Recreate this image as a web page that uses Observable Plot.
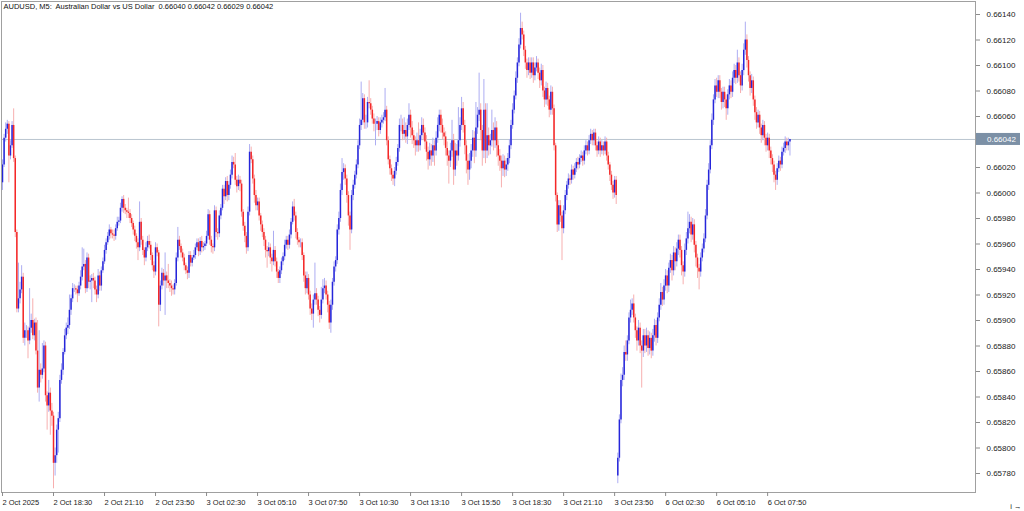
<!DOCTYPE html>
<html>
<head>
<meta charset="utf-8">
<script src="https://cdn.jsdelivr.net/npm/d3@7"></script>
<script src="https://cdn.jsdelivr.net/npm/@observablehq/plot@0.6"></script>
<style>
  html, body { margin: 0; padding: 0; background: #ffffff; }
  #chart svg text { white-space: pre; }
</style>
</head>
<body>
<div id="chart"></div>
<script>
// ---- DATA (prices in points: 66042 = 0.66042) ----
const symbol = "AUDUSD";
const timeframe = "M5";
const description = "Australian Dollar vs US Dollar";

// opens of each trading session (first bar, and first bar after the weekend)
const sessionStarts = [0, 386];
const sessionOpens = [66008, 65778];

// close of every M5 bar, 2 Oct 15:50 ... 6 Oct 09:00
const closes = [
  // 2 Oct 15:50 –
  66022,66043,66050,66054,66029,66037,66053,66027,65969,65909,
  65917,65924,65934,65886,65892,65892,65884,65894,65900,65888,
  65898,65876,65847,65861,65857,65862,65880,65841,65833,65843,
  65829,65825,65788,65794,65814,65823,65853,65861,65875,65888,
  65894,65896,65908,65917,65925,65925,65924,65921,65927,65934,
  65942,65944,65925,65949,65930,65931,65933,65931,65924,65920,
  65935,65927,
  65939,65946,65955,65961,65966,65971,65968,65967,
  65966,65972,65977,65978,65988,65995,65988,65986,65985,65984,
  65980,65976,65971,65966,65961,65957,65977,65963,65955,65949,
  65957,65962,65959,65951,65943,65938,65957,65953,65912,65927,
  65937,65931,65935,65931,65929,65927,65925,65924,65929,65949,
  65963,65958,65953,65949,65943,65939,65937,65951,65945,65949,
  65951,65957,65961,
  65954,65962,65957,65958,65960,65966,65983,
  65963,65958,65957,65986,65969,65968,65982,65988,66003,65997,
  66009,65998,66006,66014,66024,66022,66010,66005,66010,66007,
  65985,65974,65966,65957,65985,66032,66026,66011,65998,65990,
  65993,65982,65975,65969,65963,65955,65954,65957,65949,65946,
  65955,65946,65938,65933,65939,65946,65950,65959,65963,65959,
  65967,65977,65989,65982,65969,65963,65961,
  65961,65951,65935,
  65925,65933,65920,65909,65905,65916,65921,65916,65908,65904,
  65916,65925,65927,65920,65912,65898,65912,65930,65942,65947,
  65971,65980,66002,66016,66019,66011,65998,65982,65971,65998,
  66006,66014,66022,66037,66053,66057,66074,66055,66055,66071,
  66070,66065,66058,66054,66054,66056,66049,66055,66057,66059,
  66065,66041,66026,66019,66014,66011,66017,66024,66035,66053,
  66053,66046,66049,66044,66053,66061,66051,66045,66041,66037,
  66041,66037,66045,66053,66047,66040,66032,66026,66033,66029,
  66037,66033,66043,66053,66061,66053,66047,66044,66035,66029,
  66025,66033,66041,66018,66033,66029,66041,66053,66066,66053,
  66037,66025,66018,66025,66033,66043,66033,66051,66061,66065,
  66049,66033,66065,66033,66045,66037,66041,66049,66041,66051,
  66037,66029,
  66025,66019,66025,66018,66022,66027,66037,66053,
  66065,66076,66090,66102,66116,66129,66124,66112,66102,66096,
  66102,66094,66102,66092,66098,66102,66094,66088,66096,66080,
  66073,66082,66073,66065,66079,66066,66037,65998,65975,65990,
  65982,65972,65986,65998,66006,66011,66010,66018,66014,66019,
  66024,66022,66027,66029,66025,66033,66037,66033,66041,66046,
  66041,66047,66037,66033,66040,66033,66037,66033,66040,66029,
  66022,66014,66006,66000,66010,65998,
  // 6 Oct 00:00 –
  65792,65822,65853,65857,
  65875,65873,65884,65902,65908,65913,65902,65892,65884,65894,
  65880,65876,65888,65880,65888,65878,65886,65876,65888,65896,
  65886,65902,65912,65922,65916,65927,65935,65927,65941,65947,
  65939,65953,65946,65956,65963,65955,65943,65938,65955,65964,
  65972,65977,65967,65975,65959,65949,65941,65938,
  65949,65956,
  65964,65982,66006,66018,66037,66057,66073,66084,66079,66088,
  66079,66071,66079,66073,66066,66077,66084,66079,66090,66096,
  66090,66102,66092,66084,66096,66112,66120,66104,66092,66082,
  66088,66073,66063,66055,66061,66051,66045,66053,66043,66037,
  66043,66033,66027,66022,66014,66010,66019,66025,66022,66032,
  66035,66040,66037,66040,66042
];

// upper wick length above the body, points
const wickUp = [
  4,3,5,3,2,4,3,13,2,2, 28,6,9,3,6,4,3,31,5,17, 3,4,24,31,5,20,4,3,3,10,
  4,6,3,6,4,5,4,5,3,5, 4,6,12,3,4,3,2,3,3,5, 15,12,3,4,3,4,3,4,3,3, 5,3,
  3,3,4,3,3,4,2,3, 4,3,4,3,4,2,3,3,2,11, 3,3,2,3,2,3,16,3,3,2,
  4,4,5,3,2,3,4,3,2,4, 4,3,18,3,13,3,4,3,3,4, 10,3,2,3,3,2,3,3,3,2, 4,3,3,
  3,3,4,3,2,4,4, 3,3,2,4,3,3,4,3,3,3, 3,4,3,4,5,4,9,3,4,3,
  3,2,3,3,4,6,4,3,3,4, 3,3,2,3,3,3,3,4,3,3, 15,3,3,2,3,3,3,4,3,3, 4,3,4,6,3,3,2,
  3,3,2, 3,5,3,3,4,4,24,4,3,3, 10,7,6,4,3,3,4,3,4,3,
  4,5,5,11,4,3,3,3,3,4, 4,3,4,4,5,30,4,3,6,4, 17,4,3,4,4,4,3,4,4,4, 17,3,3,3,3,3,3,4,3,5,
  8,5,10,6,5,9,4,5,4,3, 6,14,5,6,5,4,5,4,6,5, 6,4,5,6,4,4,5,4,4,5,
  4,6,16,5,6,5,26,6,9,5, 4,4,5,6,5,6,5,20,6,29, 5,4,24,5,25,6,5,16,6,8, 5,4,
  5,4,5,4,5,4,5,4, 5,4,5,4,5,12,5,3,3,3, 4,4,4,4,4,5,3,4,5,4,
  3,5,4,3,5,4,3,2,2,4, 4,3,4,4,3,4,3,4,3,4, 3,4,3,4,3,4,4,3,4,4,
  3,3,3,3,4,3,4,3,4,3, 3,2,3,3,3,3,
  4,4,5,6, 5,9,4,4,8,4,7,3,3,6, 4,4,5,5,6,4,5,4,5,5,
  4,4,5,7,4,5,5,4,4,5, 4,5,4,5,4,4,3,3,5,5, 13,6,4,5,4,3,3,3,
  4,4, 4,5,4,5,4,5,4,5,6,4, 4,3,4,4,4,4,5,4,5,5, 4,10,4,3,5,5,14,4,3,3,
  5,3,3,4,4,3,3,4,3,3, 4,3,3,3,3,3,4,4,3,4, 4,4,3,3,0
];

// lower wick length below the body, points
const wickDown = [
  6,2,3,4,21,3,2,3,4,3, 3,4,3,4,6,6,14,3,4,3, 4,3,4,11,6,3,3,5,19,5,
  19,8,20,10,6,18,3,3,4,2, 3,5,3,4,3,3,4,7,2,3, 3,3,4,3,5,6,17,6,4,6, 3,4,
  4,2,2,3,2,3,4,3, 4,3,2,3,2,3,4,3,5,4, 4,3,4,4,5,10,3,4,4,6,
  3,3,3,4,4,5,3,3,17,5, 3,4,27,6,4,5,6,4,4,2, 3,3,4,3,4,3,5,4,3,3, 2,3,2,
  4,3,4,3,3,2,3, 4,5,5,3,4,5,3,3,2,6, 3,5,4,3,3,3,4,5,3,6,
  4,4,5,5,3,3,3,4,6,4, 4,4,5,4,5,6,13,4,5,8, 3,4,5,4,4,3,3,3,3,4, 3,3,2,4,5,4,4,
  4,4,5, 5,4,4,5,5,11,4,4,5,6, 3,3,4,4,6,5,8,4,3,4,
  3,4,3,4,6,5,6,8,16,3, 4,3,3,3,3,4,4,5,5,4, 4,4,4,6,17,5,5,3,4,3, 3,4,4,5,5,5,6,3,3,3,
  5,5,4,5,6,4,8,7,6,8, 5,5,4,4,6,6,7,8,5,8, 5,12,4,4,5,6,5,7,6,8,
  18,5,5,12,5,8,4,5,4,6, 7,10,12,8,6,5,10,5,5,5, 8,12,6,10,6,8,7,5,8,6, 9,8,
  8,15,6,6,5,5,4,3, 3,3,3,4,3,3,4,5,5,6, 4,5,4,6,4,3,5,6,4,5,
  6,4,5,6,4,5,4,5,6,5, 5,25,4,3,4,3,4,3,4,3, 3,4,3,3,4,3,3,4,3,3,
  4,4,4,5,3,5,3,4,3,4, 4,5,4,5,4,7,
  6,3,3,5, 4,5,5,3,4,4,4,6,8,4, 6,29,5,6,5,6,5,6,4,5,
  6,4,3,4,5,4,4,6,5,4, 8,4,7,4,5,6,8,10,4,4, 4,4,6,4,6,7,8,14,
  4,3, 3,3,3,4,3,3,4,3,4,5, 5,6,5,6,9,5,4,5,4,4, 5,4,5,6,4,4,4,6,5,6,
  4,5,6,5,4,5,6,4,6,5, 4,6,5,6,6,8,4,3,5,3, 3,4,4,4,11
];

// time-axis labels (one every 32 bars) and price-axis levels
const xTickLabels = [
  "2 Oct 2025","2 Oct 18:30","2 Oct 21:10","2 Oct 23:50","3 Oct 02:30","3 Oct 05:10",
  "3 Oct 07:50","3 Oct 10:30","3 Oct 13:10","3 Oct 15:50","3 Oct 18:30","3 Oct 21:10",
  "3 Oct 23:50","6 Oct 02:30","6 Oct 05:10","6 Oct 07:50"
];
const barsPerLabel = 32;
const yTicks = [0.6578,0.6580,0.6582,0.6584,0.6586,0.6588,0.6590,0.6592,0.6594,0.6596,
  0.6598,0.6600,0.6602,0.6604,0.6606,0.6608,0.6610,0.6612,0.6614];

// ---- BUILD ----
if (closes.length !== wickUp.length || closes.length !== wickDown.length) {
  throw new Error("length mismatch " + closes.length + " " + wickUp.length + " " + wickDown.length);
}
const P = v => v / 1e5;
const bars = closes.map((c, i) => {
  const s = sessionStarts.indexOf(i);
  const o = s >= 0 ? sessionOpens[s] : closes[i - 1];
  return {
    i,
    open: P(o), close: P(c),
    high: P(Math.max(o, c) + wickUp[i]),
    low: P(Math.min(o, c) - wickDown[i]),
    up: c >= o
  };
});
const last = bars[bars.length - 1];
const fmt = v => v.toFixed(5);
const title = `${symbol}, ${timeframe}:  ${description}  ${fmt(last.open)} ${fmt(last.high)} ${fmt(last.low)} ${fmt(last.close)}`;
const xTickBars = xTickLabels.map((_, k) => k * barsPerLabel);
const labelOf = new Map(xTickBars.map((b, k) => [b, xTickLabels[k]]));
// the price-axis level hidden behind the current-price marker keeps its tick but not its label
const hidden = t => Math.abs(t - last.close) < 0.00007;

const BLUE = "#2626da", RED = "#f42828";
const BLUE_W = "#adadf2", RED_W = "#f7afaf";
const font = "Liberation Sans, Arial, sans-serif";

const chart = Plot.plot({
  width: 1024,
  height: 511,
  marginLeft: 1,
  marginRight: 49,
  marginTop: 1,
  marginBottom: 19,
  style: { fontFamily: font, fontSize: "8px", background: "#ffffff", color: "#000000", overflow: "visible" },
  x: { domain: [-0.63, 610.4], axis: null },
  y: { domain: [0.657651, 0.661502], axis: null },
  marks: [
    Plot.ruleY([last.close], { stroke: "#b9c5cf", strokeWidth: 1 }),
    Plot.ruleX(bars.filter(d => d.up), { x: "i", y1: "low", y2: "high", stroke: BLUE_W, strokeWidth: 1 }),
    Plot.ruleX(bars.filter(d => !d.up), { x: "i", y1: "low", y2: "high", stroke: RED_W, strokeWidth: 1 }),
    Plot.ruleX(bars.filter(d => d.up), { x: "i", y1: "open", y2: "close", stroke: BLUE, strokeWidth: 1.5 }),
    Plot.ruleX(bars.filter(d => !d.up), { x: "i", y1: "open", y2: "close", stroke: RED, strokeWidth: 1.5 }),
    Plot.frame({ stroke: "#a0a0a0" }),
    Plot.axisY(yTicks, {
      anchor: "right", tickSize: 4, tickPadding: 7, stroke: "#8c8c8c",
      tickFormat: d => hidden(d) ? "" : d.toFixed(5), fontSize: 8, fill: "#222"
    }),
    Plot.axisX(xTickBars, {
      anchor: "bottom", tickSize: 4, tickPadding: 3, stroke: "#8c8c8c",
      tickFormat: d => labelOf.get(d), textAnchor: "start", dx: 0, fontSize: 7.5, fill: "#222"
    }),
    Plot.text([title], {
      frameAnchor: "top-left", dx: 2, dy: 2, fontSize: 7.5, fill: "#111", textAnchor: "start", lineAnchor: "top"
    })
  ]
});

document.getElementById("chart").appendChild(chart);

// current-price marker on the price axis
const ys = chart.scale("y");
const yy = ys.apply(last.close);
const svg = d3.select(chart);
const xLeft = 1024 - 49 + 1;
svg.append("rect")
  .attr("x", xLeft).attr("y", yy - 6).attr("width", 44).attr("height", 12)
  .attr("fill", "#7c90a6");
svg.append("text")
  .attr("x", xLeft + 11).attr("y", yy).attr("dy", "0.35em")
  .attr("text-anchor", "start")
  .attr("fill", "#ffffff").attr("font-size", 8).attr("font-family", font)
  .text(fmt(last.close));
</script>
</body>
</html>
